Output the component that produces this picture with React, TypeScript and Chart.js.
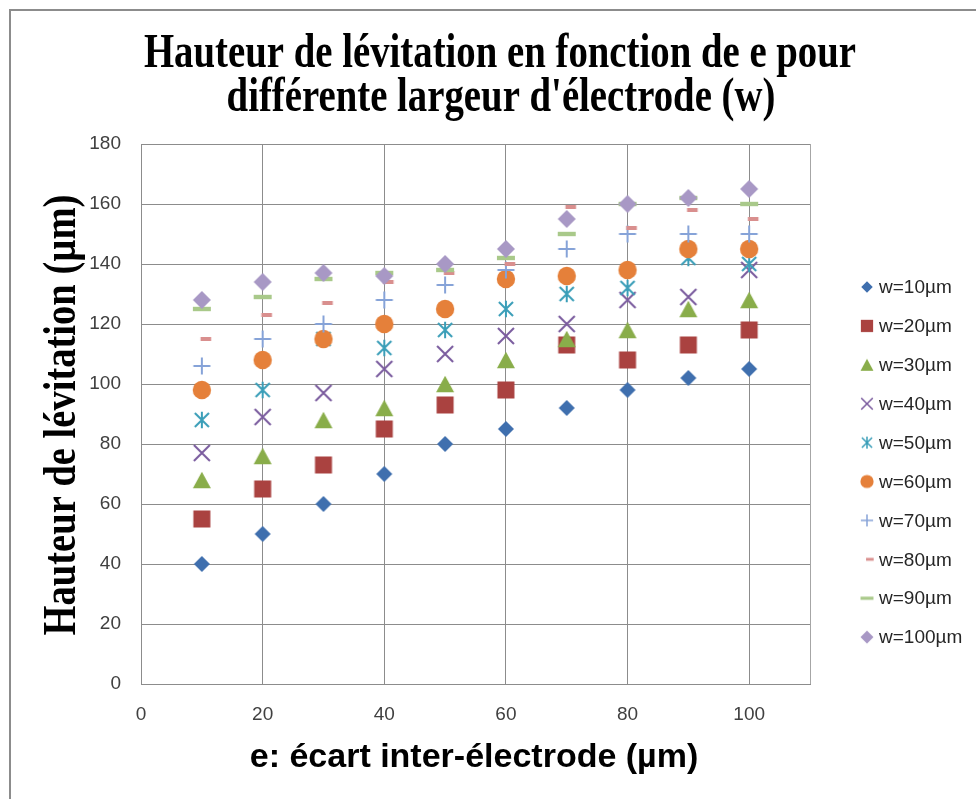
import React, { useEffect, useRef } from 'react';
import { Chart, registerables } from 'chart.js';

Chart.register(...registerables);

// ---------- data ----------
const eValues = [10, 20, 30, 40, 50, 60, 70, 80, 90, 100];
const w10 = [40, 50, 60, 70, 80, 85, 92, 98, 102, 105];
const w20 = [55, 65, 73, 85, 93, 98, 113, 108, 113, 118];
const w30 = [68, 76, 88, 92, 100, 108, 115, 118, 125, 128];
const w40 = [77, 89, 97, 105, 110, 116, 120, 128, 129, 138];
const w50 = [88, 98, 115, 112, 118, 125, 130, 132, 142, 140];
const w60 = [98, 108, 115, 120, 125, 135, 136, 138, 145, 145];
const w70 = [106, 115, 120, 128, 133, 138, 145, 150, 150, 150];
const w80 = [115, 123, 127, 134, 137, 140, 159, 152, 158, 155];
const w90 = [125, 129, 135, 137, 138, 142, 150, 160, 162, 160];
const w100 = [128, 134, 137, 136, 140, 145, 155, 160, 162, 165];

const seriesLabels = ['w=10µm', 'w=20µm', 'w=30µm', 'w=40µm', 'w=50µm', 'w=60µm', 'w=70µm', 'w=80µm', 'w=90µm', 'w=100µm'];
const seriesValues = [w10, w20, w30, w40, w50, w60, w70, w80, w90, w100];

const titleLines = ['Hauteur de lévitation en fonction de e pour', "différente largeur d'électrode (w)"];
const xTitle = 'e: écart inter-électrode (µm)';
const yTitle = 'Hauteur de lévitation (µm)';

const xMin = 0;
const xMax = 110;
const xStep = 20;
const yMin = 0;
const yMax = 180;
const yStep = 20;

// ---------- styles ----------
type Kind = 'diamond' | 'square' | 'triangle' | 'cross' | 'star' | 'circle' | 'plus' | 'shortDash' | 'longDash';
const markerKinds: Kind[] = ['diamond', 'square', 'triangle', 'cross', 'star', 'circle', 'plus', 'shortDash', 'longDash', 'diamond'];
const markerColors = ['#3F6FAE', '#AA4240', '#89AD4A', '#7A5B9E', '#3A9EB8', '#E5803A', '#86A3D8', '#D98F8E', '#A9C98A', '#A898C5'];
const markerSizes = [8, 8.5, 9, 8, 8.3, 9.2, 8.5, 1, 1, 9];

function makeMarker(kind: Kind, color: string, size: number, k: number, lw: number): HTMLCanvasElement {
  const N = 32;
  const c = document.createElement('canvas');
  c.width = N;
  c.height = N;
  const g = c.getContext('2d')!;
  const m = N / 2;
  const s = size * k;
  g.fillStyle = color;
  g.strokeStyle = color;
  g.lineWidth = lw;
  g.lineCap = 'butt';
  switch (kind) {
    case 'diamond':
      g.beginPath();
      g.moveTo(m, m - s);
      g.lineTo(m + s, m);
      g.lineTo(m, m + s);
      g.lineTo(m - s, m);
      g.closePath();
      g.fill();
      break;
    case 'square':
      g.fillRect(m - s, m - s, 2 * s, 2 * s);
      break;
    case 'triangle': {
      const hh = s * 0.92;
      g.beginPath();
      g.moveTo(m, m - hh);
      g.lineTo(m + s, m + hh);
      g.lineTo(m - s, m + hh);
      g.closePath();
      g.fill();
      break;
    }
    case 'circle':
      g.beginPath();
      g.arc(m, m, s, 0, Math.PI * 2);
      g.fill();
      break;
    case 'cross':
      g.beginPath();
      g.moveTo(m - s, m - s);
      g.lineTo(m + s, m + s);
      g.moveTo(m + s, m - s);
      g.lineTo(m - s, m + s);
      g.stroke();
      break;
    case 'star': {
      const d = s * 0.85;
      g.beginPath();
      g.moveTo(m - d, m - d);
      g.lineTo(m + d, m + d);
      g.moveTo(m + d, m - d);
      g.lineTo(m - d, m + d);
      g.moveTo(m, m - s);
      g.lineTo(m, m + s);
      g.stroke();
      break;
    }
    case 'plus':
      g.beginPath();
      g.moveTo(m - s, m);
      g.lineTo(m + s, m);
      g.moveTo(m, m - s);
      g.lineTo(m, m + s);
      g.stroke();
      break;
    case 'shortDash':
      g.fillRect(m + 4 * k - 5.3 * k, m - 2 * k, 10.6 * k, 4 * k);
      break;
    case 'longDash':
      g.fillRect(m - 9 * k, m - 2.2 * k, 18 * k, 4.4 * k);
      break;
  }
  return c;
}

function drawCondensed(ctx: CanvasRenderingContext2D, text: string, x: number, y: number, sx: number, rot: number) {
  ctx.save();
  ctx.translate(x, y);
  ctx.rotate(rot);
  ctx.scale(sx, 1);
  ctx.fillText(text, 0, 0);
  ctx.restore();
}

export default function App() {
  const ref = useRef<HTMLCanvasElement>(null);

  useEffect(() => {
    if (!ref.current) return;
    const pointImgs = markerKinds.map((kd, i) => makeMarker(kd, markerColors[i], markerSizes[i], 1, 2));
    const legendImgs = markerKinds.map((kd, i) => makeMarker(kd, markerColors[i], markerSizes[i], 0.72, 1.5));

    const datasets = seriesValues.map((vals, i) => ({
      label: seriesLabels[i],
      data: eValues.map((x, j) => ({ x, y: vals[j] })),
      pointStyle: pointImgs[i] as any,
      pointRadius: 9,
      pointHoverRadius: 9,
      showLine: false,
      order: seriesValues.length - i,
    }));

    const decor = {
      id: 'excelDecor',
      beforeDraw(chart: any) {
        const ctx = chart.ctx as CanvasRenderingContext2D;
        ctx.save();
        ctx.fillStyle = '#ffffff';
        ctx.fillRect(0, 0, chart.width, chart.height);
        ctx.fillStyle = '#8c8c8c';
        ctx.fillRect(9, 9, 2, chart.height);
        ctx.fillRect(9, 9, chart.width, 2);
        ctx.restore();
      },
      afterDatasetsDraw(chart: any) {
        const ctx = chart.ctx as CanvasRenderingContext2D;
        const a = chart.chartArea;
        ctx.save();
        ctx.strokeStyle = '#a6a6a6';
        ctx.lineWidth = 1;
        ctx.beginPath();
        ctx.moveTo(Math.round(a.right) + 0.5, a.top);
        ctx.lineTo(Math.round(a.right) + 0.5, a.bottom);
        ctx.stroke();
        ctx.restore();
      },
      afterDraw(chart: any) {
        const ctx = chart.ctx as CanvasRenderingContext2D;
        ctx.save();
        // main title
        ctx.fillStyle = '#000000';
        ctx.textAlign = 'center';
        ctx.textBaseline = 'alphabetic';
        ctx.font = 'bold 48px "Liberation Serif"';
        drawCondensed(ctx, titleLines[0], 500, 67, 0.808, 0);
        drawCondensed(ctx, titleLines[1], 501, 111, 0.808, 0);
        // y title
        ctx.font = 'bold 46px "Liberation Serif"';
        drawCondensed(ctx, yTitle, 75, 415, 0.838, -Math.PI / 2);
        // x title
        ctx.font = 'bold 34px "Liberation Sans"';
        drawCondensed(ctx, xTitle, 474, 767, 1, 0);
        // legend
        ctx.font = '19px "Liberation Sans"';
        ctx.textAlign = 'left';
        ctx.textBaseline = 'middle';
        ctx.fillStyle = '#262626';
        seriesLabels.forEach((lab, i) => {
          const y = 287 + 38.9 * i;
          const img = legendImgs[i];
          ctx.drawImage(img, 867 - img.width / 2, y - img.height / 2);
          ctx.fillText(lab, 879, y + 1);
        });
        ctx.restore();
      },
    };

    const tickFont = { family: 'Liberation Sans', size: 19 };
    const chart = new Chart(ref.current, {
      type: 'scatter',
      data: { datasets },
      options: {
        responsive: false,
        animation: false,
        layout: { padding: { top: 144, right: 166, bottom: 0, left: 0 } },
        plugins: {
          legend: { display: false },
          title: { display: false },
          tooltip: { enabled: false },
        },
        scales: {
          x: {
            type: 'linear',
            min: xMin,
            max: xMax,
            afterFit: (s: any) => { s.height = 115; },
            ticks: { stepSize: xStep, includeBounds: false, padding: 19, color: '#404040', font: tickFont },
            grid: { color: '#8c8c8c', drawTicks: false, lineWidth: 1 },
            border: { color: '#8c8c8c', width: 1 },
          },
          y: {
            type: 'linear',
            min: yMin,
            max: yMax,
            afterFit: (s: any) => { s.width = 141; },
            ticks: { stepSize: yStep, padding: 20, color: '#404040', font: tickFont },
            grid: { color: '#8c8c8c', drawTicks: false, lineWidth: 1 },
            border: { color: '#8c8c8c', width: 1 },
          },
        },
      } as any,
      plugins: [decor],
    });
    return () => chart.destroy();
  }, []);

  return (
    <div style={{ position: 'fixed', left: 0, top: 0, width: 976, height: 799, overflow: 'hidden', background: '#fff' }}>
      <canvas ref={ref} width={976} height={799} style={{ display: 'block', width: 976, height: 799 }} />
    </div>
  );
}
